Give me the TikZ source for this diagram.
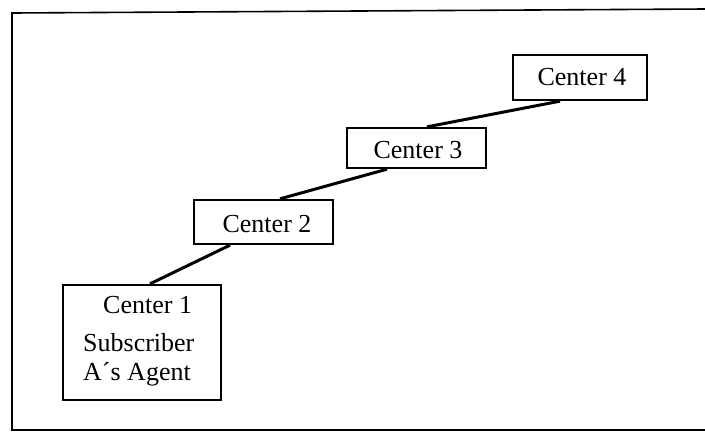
\documentclass[tikz,border=0pt]{standalone}
\usepackage{fontspec}
\setmainfont{Liberation Serif}
\begin{document}
\begin{tikzpicture}[x=1pt,y=-1pt,
  centerbox/.style={draw=black, line width=2.3pt, fill=white, inner sep=0pt},
  label/.style={font=\fontsize{26}{30}\selectfont, inner sep=0pt},
  link/.style={line width=3pt, line cap=butt}]
  \useasboundingbox (0,0) rectangle (705,432);
  \fill[white] (0,0) rectangle (705,432);
  % outer frame (open on the right)
  \draw[line width=1.6pt] (705,9) -- (12,13) -- (12,430) -- (705,430);

  % the four centers
  \node[centerbox, minimum width=158pt, minimum height=115pt] (c1) at (142,342.5) {};
  \node[centerbox, minimum width=139pt, minimum height=44pt] (c2) at (263.5,222) {};
  \node[centerbox, minimum width=139pt, minimum height=40pt] (c3) at (416.5,148) {};
  \node[centerbox, minimum width=134pt, minimum height=45pt] (c4) at (580,77.5) {};

  % texts
  \node[label, anchor=base west] (t1a) at (103,313) {Center 1};
  \node[label, anchor=base west] (t1b) at (83,351) {Subscriber};
  \node[label, anchor=base west] (t1c) at (83,380) {A´s Agent};
  \node[label, anchor=base] (t2) at (267,232) {Center 2};
  \node[label, anchor=base] (t3) at (418,158) {Center 3};
  \node[label, anchor=base] (t4) at (582,85) {Center 4};

  % connectors between successive centers
  \draw[link] ([xshift=8pt]c1.north) -- ([xshift=-33.5pt]c2.south);
  \draw[link] ([xshift=16.5pt]c2.north) -- ([xshift=-29.5pt]c3.south);
  \draw[link] ([xshift=10.5pt]c3.north) -- ([xshift=-20pt]c4.south);
\end{tikzpicture}
\end{document}
